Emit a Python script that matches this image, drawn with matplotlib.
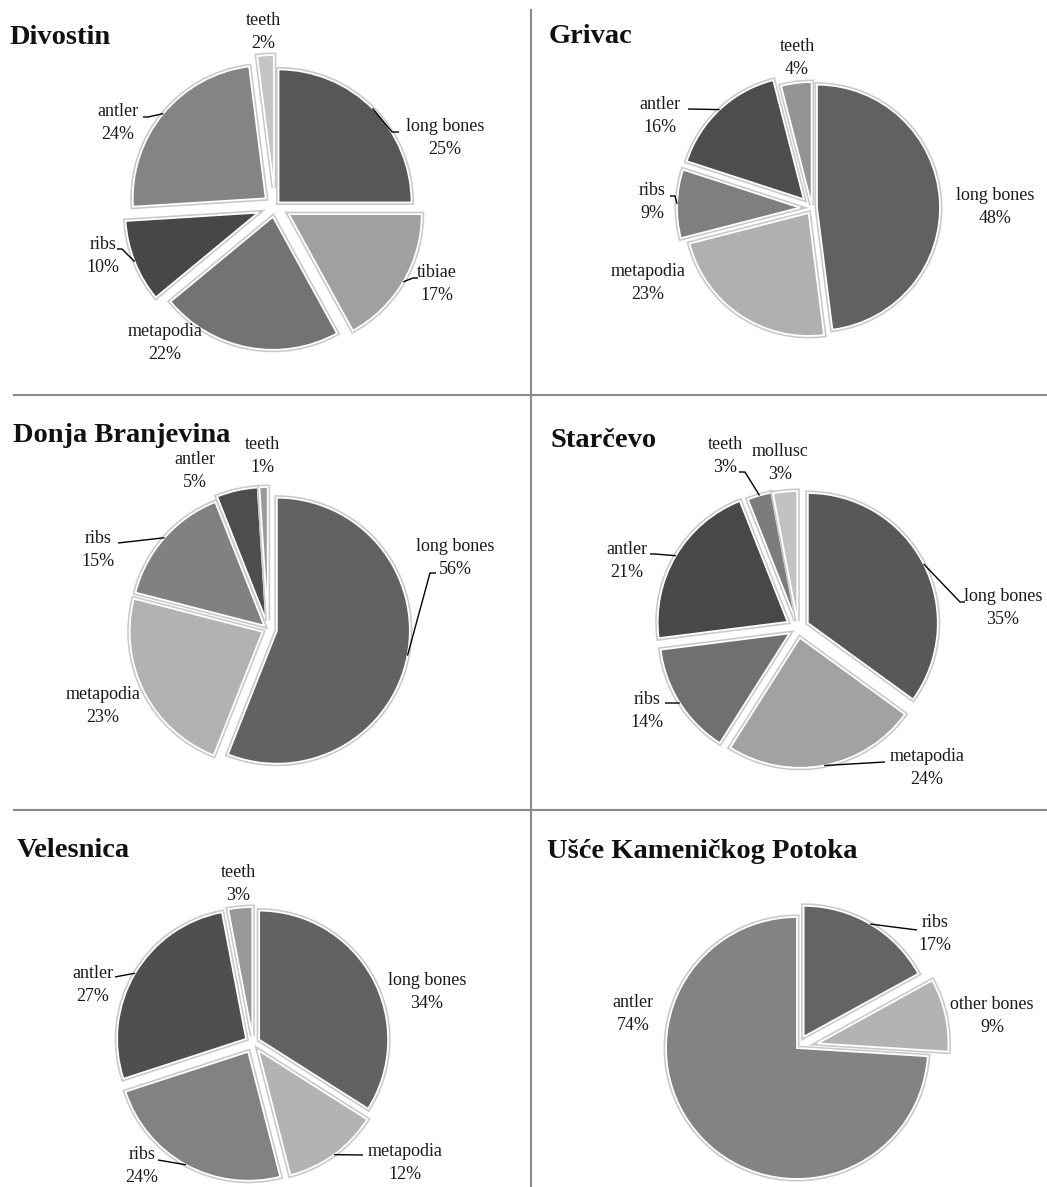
import matplotlib
matplotlib.use('Agg')
import matplotlib.pyplot as plt
import matplotlib.patheffects as pe
import numpy as np

W, H = 1047, 1187

# ---------------- data ----------------
divostin_labels = ['long bones', 'tibiae', 'metapodia', 'ribs', 'antler', 'teeth']
divostin_values = [25, 17, 22, 10, 24, 2]

grivac_labels = ['long bones', 'metapodia', 'ribs', 'antler', 'teeth']
grivac_values = [48, 23, 9, 16, 4]

donja_labels = ['long bones', 'metapodia', 'ribs', 'antler', 'teeth']
donja_values = [56, 23, 15, 5, 1]

starcevo_labels = ['long bones', 'metapodia', 'ribs', 'antler', 'teeth', 'mollusc']
starcevo_values = [35, 24, 14, 21, 3, 3]

velesnica_labels = ['long bones', 'metapodia', 'ribs', 'antler', 'teeth']
velesnica_values = [34, 12, 24, 27, 3]

usce_labels = ['ribs', 'other bones', 'antler']
usce_values = [17, 9, 74]

# ---------------- layout (pixel coordinates, y from top) ----------------
panels = [
    dict(title='Divostin', title_xy=(10, 44), labels=divostin_labels, values=divostin_values,
         center=(275, 206), radius=133, explode=[5, 16, 11, 18, 12, 18],
         colors=['#575757', '#a0a0a0', '#737373', '#474747', '#848484', '#c4c4c4'],
         label_xy=[(445, 138), (437, 284), (165, 343), (103, 256), (118, 123), (263, 32)],
         leaders=[[(392, 132), (399, 132)], [(413, 278), (418, 278)], None,
                  [(122, 249), (117, 249)], [(148, 117), (143, 117)], None]),
    dict(title='Grivac', title_xy=(549, 43), labels=grivac_labels, values=grivac_values,
         center=(812, 208), radius=123, explode=[5, 6, 12, 12, 3],
         colors=['#616161', '#b0b0b0', '#7f7f7f', '#4e4e4e', '#949494'],
         label_xy=[(995, 207), (648, 283), (652, 202), (660, 116), (797, 58)],
         leaders=[None, None, [(675, 196), (670, 196)], [(688, 109)], None]),
    dict(title='Donja Branjevina', title_xy=(13, 442), labels=donja_labels, values=donja_values,
         center=(268, 629), radius=133, explode=[9, 6, 5, 9, 9],
         colors=['#626262', '#b2b2b2', '#818181', '#4d4d4d', '#9a9a9a'],
         label_xy=[(455, 558), (103, 706), (98, 550), (195, 471), (262, 456)],
         leaders=[[(430, 573), (436, 573)], None, [(118, 543)], None, None]),
    dict(title='Starčevo', title_xy=(550, 447), labels=starcevo_labels, values=starcevo_values,
         center=(798, 628), radius=130, explode=[11, 10, 10, 12, 8, 7],
         colors=['#585858', '#a2a2a2', '#707070', '#484848', '#7c7c7c', '#c2c2c2'],
         label_xy=[(1003, 608), (927, 768), (647, 711), (627, 561), (725, 456), (780, 463)],
         leaders=[[(960, 602), (965, 602)], [(885, 762)], [(670, 703), (665, 703)],
                  [(655, 554), (650, 554)], [(745, 472), (739, 472)], None]),
    dict(title='Velesnica', title_xy=(17, 857), labels=velesnica_labels, values=velesnica_values,
         center=(253, 1043), radius=129, explode=[7, 9, 10, 8, 7],
         colors=['#626262', '#b3b3b3', '#828282', '#4f4f4f', '#999999'],
         label_xy=[(427, 992), (405, 1163), (142, 1166), (93, 985), (238, 884)],
         leaders=[None, [(363, 1155)], [(158, 1160)], [(120, 976), (115, 977)], None]),
    dict(title='Ušće Kameničkog Potoka', title_xy=(547, 858), labels=usce_labels, values=usce_values,
         center=(797, 1048), radius=131, explode=[13, 21, 0],
         colors=['#646464', '#b3b3b3', '#838383'],
         label_xy=[(935, 934), (992, 1016), (633, 1014)],
         leaders=[[(917, 930)], None, None]),
]

SERIF = ['Liberation Serif', 'DejaVu Serif']

fig = plt.figure(figsize=(W / 100, H / 100), dpi=100)
ax = fig.add_axes([0, 0, 1, 1])


def Y(py):
    return H - py


for p in panels:
    cx, cy = p['center']
    vals = np.array(p['values'], dtype=float)
    wedges, _ = ax.pie(vals, explode=p['explode'], colors=p['colors'], startangle=90,
                       counterclock=False, radius=p['radius'], center=(cx, Y(cy)), frame=True,
                       wedgeprops=dict(edgecolor='white', linewidth=1.3,
                                       path_effects=[pe.Stroke(linewidth=3.6, foreground='#c9c9c9'),
                                                     pe.Normal()]))
    total = vals.sum()
    for w, lab, v, lxy, ld in zip(wedges, p['labels'], vals, p['label_xy'], p['leaders']):
        pct = int(round(100 * v / total))
        ax.text(lxy[0], Y(lxy[1]), f'{lab}\n{pct}%', ha='center', va='center',
                fontsize=13, family=SERIF, color='#1a1a1a', linespacing=1.45)
        if ld is not None:
            th = np.deg2rad(0.5 * (w.theta1 + w.theta2))
            x0 = w.center[0] + w.r * np.cos(th)
            y0 = w.center[1] + w.r * np.sin(th)
            xs = [x0] + [q[0] for q in ld]
            ys = [y0] + [Y(q[1]) for q in ld]
            ax.plot(xs, ys, color='black', lw=1.0, solid_capstyle='butt')
    ax.text(p['title_xy'][0], Y(p['title_xy'][1]), p['title'], ha='left', va='baseline',
            fontsize=20.5, fontweight='bold', family=SERIF, color='#111111')

# panel separators
ax.plot([531, 531], [Y(10), Y(H)], color='#8a8a8a', lw=1.5)
ax.plot([14, W], [Y(395), Y(395)], color='#8a8a8a', lw=1.5)
ax.plot([14, W], [Y(810), Y(810)], color='#8a8a8a', lw=1.5)

ax.set_xlim(0, W)
ax.set_ylim(0, H)
ax.set_aspect('auto')
ax.axis('off')

fig.savefig('out.png', dpi=100, facecolor='white')
